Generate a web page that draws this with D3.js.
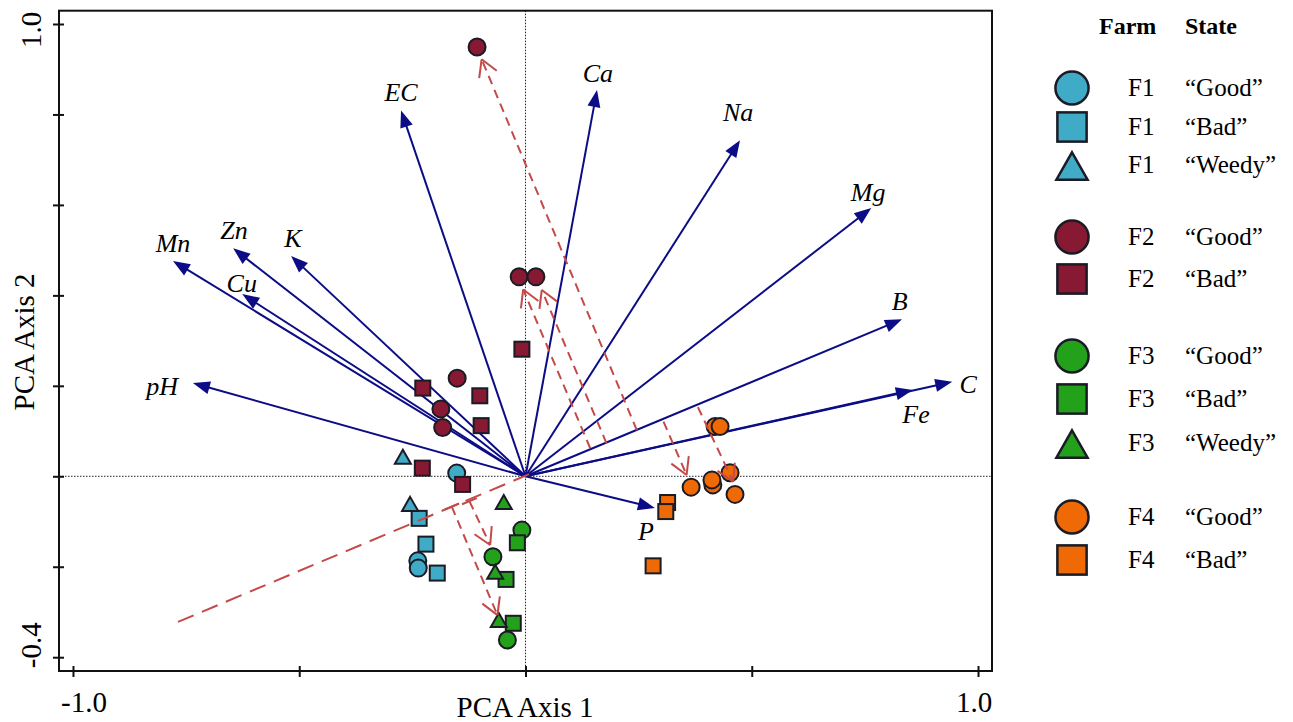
<!DOCTYPE html>
<html><head><meta charset="utf-8">
<script src="https://cdn.jsdelivr.net/npm/d3@7"></script>
<style>body{margin:0;background:#fff} svg{display:block} text{font-family:"Liberation Serif","Times New Roman",serif}</style>
</head><body><svg id="c" width="1293" height="722" font-family="Liberation Serif, Times New Roman, serif"></svg>
<script>
// ---------- DATA ----------
const vectorNames  = ["EC","Ca","Na","Mg","B","C","Fe","P","pH","Mn","Zn","K","Cu"];
const vectorX      = [-0.275,0.158,0.474,0.764,0.832,0.943,0.856,0.286,-0.735,-0.779,-0.646,-0.518,-0.626];
const vectorY      = [0.809,0.854,0.743,0.593,0.347,0.209,0.191,-0.070,0.206,0.476,0.504,0.487,0.403];
const vectorLabelX = [-0.275,0.160,0.470,0.757,0.827,0.978,0.863,0.266,-0.803,-0.779,-0.644,-0.514,-0.627];
const vectorLabelY = [0.849,0.891,0.805,0.628,0.387,0.204,0.138,-0.121,0.200,0.516,0.545,0.527,0.427];

const pointFarm  = ["F1","F1","F1","F1","F1","F1","F1","F1",
                    "F2","F2","F2","F2","F2","F2","F2","F2","F2","F2","F2","F2",
                    "F3","F3","F3","F3","F3","F3","F3","F3","F3",
                    "F4","F4","F4","F4","F4","F4","F4","F4","F4","F4"];
const pointState = ["Good","Good","Good","Bad","Bad","Bad","Weedy","Weedy",
                    "Good","Good","Good","Good","Good","Good","Bad","Bad","Bad","Bad","Bad","Bad",
                    "Good","Good","Good","Bad","Bad","Bad","Weedy","Weedy","Weedy",
                    "Good","Good","Good","Good","Good","Good","Good","Bad","Bad","Bad"];
const pointX = [-0.152,-0.238,-0.237,-0.235,-0.220,-0.195,-0.271,-0.255,
                -0.107,-0.014,0.023,-0.151,-0.187,-0.183,-0.008,-0.227,-0.101,-0.098,-0.228,-0.139,
                -0.008,-0.072,-0.040,-0.018,-0.043,-0.027,-0.048,-0.067,-0.059,
                0.419,0.430,0.366,0.414,0.412,0.452,0.463,0.314,0.310,0.282];
const pointY = [0.007,-0.187,-0.203,-0.093,-0.150,-0.214,0.043,-0.061,
                0.949,0.441,0.441,0.217,0.149,0.108,0.281,0.195,0.178,0.112,0.018,-0.018,
                -0.119,-0.178,-0.362,-0.147,-0.228,-0.325,-0.057,-0.211,-0.318,
                0.110,0.110,-0.024,-0.019,-0.008,0.008,-0.040,-0.058,-0.078,-0.198];

const trendFrom = [-0.768,-0.322];
const trendTo   = [0.023,0.011];
const projFromX = [0.246,0.143,0.179,0.305,0.381,-0.124,-0.163];
const projFromY = [0.102,0.062,0.073,0.121,0.153,-0.055,-0.067];
const projToX   = [-0.097,-0.005,0.036,0.356,0.459,-0.078,-0.062];
const projToY   = [0.922,0.413,0.412,0.003,-0.012,-0.152,-0.307];
const projBar   = [false,false,false,false,false,true,true];

const xTicks = [-1.0,-0.5,0,0.5,1.0];
const xTickLabels = ["-1.0","","","","1.0"];
const yTicks = [-0.4,-0.2,0,0.2,0.4,0.6,0.8,1.0];
const yTickLabels = ["-0.4","","","","","","","1.0"];

const legendFarms  = ["F1","F1","F1","F2","F2","F3","F3","F3","F4","F4"];
const legendStates = ["Good","Bad","Weedy","Good","Bad","Good","Bad","Weedy","Good","Bad"];

// ---------- STYLE / LAYOUT ----------
const farmColor = {F1:"#40abc6",F2:"#871932",F3:"#23a11b",F4:"#ef6905"};
const edge = "#1b1b26";
const navy = "#0c0c86";
const red = "#c44a4a";
const svg = d3.select("#c");
const L=59, R=992, T=10.7, B=671;
const x = d3.scaleLinear().domain([-1.0309,1.0309]).range([L,R]);
const y = d3.scaleLinear().domain([-0.4305,1.0294]).range([B,T]);

// zero lines
svg.append("line").attr("x1",x(0)).attr("x2",x(0)).attr("y1",T).attr("y2",B)
  .attr("stroke","#222").attr("stroke-width",1).attr("stroke-dasharray","1.5,1.5");
svg.append("line").attr("x1",L).attr("x2",R).attr("y1",y(0)).attr("y2",y(0))
  .attr("stroke","#222").attr("stroke-width",1).attr("stroke-dasharray","1.5,1.5");

// frame
svg.append("rect").attr("x",L).attr("y",T).attr("width",R-L).attr("height",B-T)
  .attr("fill","none").attr("stroke","#111").attr("stroke-width",2);

// axes
const ax = svg.append("g").attr("transform",`translate(0,${B})`)
  .call(d3.axisBottom(x).tickValues(xTicks).tickSize(6).tickFormat(""));
ax.select(".domain").remove();
ax.selectAll(".tick line").attr("y1",-5).attr("y2",6).attr("stroke","#111").attr("stroke-width",2);
const ay = svg.append("g").attr("transform",`translate(${L},0)`)
  .call(d3.axisLeft(y).tickValues(yTicks).tickSize(6).tickFormat(""));
ay.select(".domain").remove();
ay.selectAll(".tick line").attr("x1",-6).attr("x2",5).attr("stroke","#111").attr("stroke-width",2);

const xLabelDx = {"-1.0":11,"1.0":-4};
xTicks.forEach((t,i)=>{ if(!xTickLabels[i]) return;
  svg.append("text").attr("x",x(t)+xLabelDx[xTickLabels[i]]).attr("y",712).attr("text-anchor","middle")
    .attr("font-size",29).text(xTickLabels[i]);
});
const yLabelDy = {"-0.4":-12,"1.0":6};
yTicks.forEach((t,i)=>{ if(!yTickLabels[i]) return;
  svg.append("text").attr("transform",`translate(41,${y(t)+yLabelDy[yTickLabels[i]]}) rotate(-90)`)
    .attr("text-anchor","middle").attr("font-size",29).text(yTickLabels[i]);
});
svg.append("text").attr("x",525).attr("y",717).attr("text-anchor","middle").attr("font-size",29).text("PCA Axis 1");
svg.append("text").attr("transform","translate(34,342) rotate(-90)").attr("text-anchor","middle")
  .attr("font-size",29).text("PCA Axis 2");

// blue vectors
const ox=x(0), oy=y(0);
vectorNames.forEach((n,i)=>{
  const tx=x(vectorX[i]), ty=y(vectorY[i]);
  const dx=tx-ox, dy=ty-oy, len=Math.hypot(dx,dy), ux=dx/len, uy=dy/len;
  const hl=17, hw=6.5;
  svg.append("line").attr("x1",ox).attr("y1",oy).attr("x2",tx-ux*10).attr("y2",ty-uy*10)
    .attr("stroke",navy).attr("stroke-width",2);
  const bx=tx-ux*hl, by=ty-uy*hl;
  svg.append("path").attr("d",`M${tx},${ty}L${bx-uy*hw},${by+ux*hw}L${bx+uy*hw},${by-ux*hw}Z`)
    .attr("fill",navy);
  svg.append("text").attr("x",x(vectorLabelX[i])).attr("y",y(vectorLabelY[i])).attr("dy","0.35em")
    .attr("text-anchor","middle").attr("font-size",26).attr("font-style","italic").text(n);
});

// points
function drawSym(g, st, cx, cy, k, col, sw){
  if(st==="Good") g.append("circle").attr("cx",cx).attr("cy",cy).attr("r",8.5*k)
      .attr("fill",col).attr("stroke",edge).attr("stroke-width",sw);
  else if(st==="Bad") g.append("rect").attr("x",cx-7.5*k).attr("y",cy-7.5*k).attr("width",15*k).attr("height",15*k)
      .attr("fill",col).attr("stroke",edge).attr("stroke-width",sw);
  else { const w=8*k, h=7*k;
    g.append("path").attr("d",`M${cx},${cy-h}L${cx+w},${cy+h}L${cx-w},${cy+h}Z`)
      .attr("fill",col).attr("stroke",edge).attr("stroke-width",sw).attr("stroke-linejoin","miter"); }
}
const order = ["Good","Bad","Weedy"];
["F1","F2","F3","F4"].forEach(f=>{
  order.forEach(st=>{
    pointFarm.forEach((pf,i)=>{
      if(pf!==f || pointState[i]!==st) return;
      drawSym(svg, st, x(pointX[i]), y(pointY[i]), 1, farmColor[f], 2);
    });
  });
});

// red trend axis
svg.append("line").attr("x1",x(trendFrom[0])).attr("y1",y(trendFrom[1])).attr("x2",x(trendTo[0])).attr("y2",y(trendTo[1]))
  .attr("stroke",red).attr("stroke-width",2).attr("stroke-dasharray","17,9");
const tdx=x(trendTo[0])-x(trendFrom[0]), tdy=y(trendTo[1])-y(trendFrom[1]), tl=Math.hypot(tdx,tdy);
const tux=tdx/tl, tuy=tdy/tl;

// projection arrows
projFromX.forEach((_,i)=>{
  const sx=x(projFromX[i]), sy=y(projFromY[i]), ex=x(projToX[i]), ey=y(projToY[i]);
  svg.append("line").attr("x1",sx).attr("y1",sy).attr("x2",ex).attr("y2",ey)
    .attr("stroke",red).attr("stroke-width",2).attr("stroke-dasharray","9,6");
  const dx=sx-ex, dy=sy-ey, l=Math.hypot(dx,dy), ux=dx/l, uy=dy/l, a=Math.PI/6, al=19;
  [a,-a].forEach(t=>{
    const rx=ux*Math.cos(t)-uy*Math.sin(t), ry=ux*Math.sin(t)+uy*Math.cos(t);
    svg.append("line").attr("x1",ex).attr("y1",ey).attr("x2",ex+rx*al).attr("y2",ey+ry*al)
      .attr("stroke",red).attr("stroke-width",2);
  });
  if(projBar[i]) svg.append("line").attr("x1",sx-tux*8).attr("y1",sy-tuy*8).attr("x2",sx+tux*8).attr("y2",sy+tuy*8)
      .attr("stroke",red).attr("stroke-width",2);
});

// legend
svg.append("text").attr("x",1099).attr("y",34).attr("font-size",24).attr("font-weight","bold").text("Farm");
svg.append("text").attr("x",1185).attr("y",34).attr("font-size",24).attr("font-weight","bold").text("State");
const legendRowY = [88,127,165,237,279,356,399,443,517,560];
legendFarms.forEach((f,i)=>{
  const cy=legendRowY[i];
  drawSym(svg, legendStates[i], 1072, cy + (legendStates[i]==="Weedy"?1:0), 1.95, farmColor[f], 2.5);
  svg.append("text").attr("x",1128).attr("y",cy+8).attr("font-size",25).text(f);
  svg.append("text").attr("x",1185).attr("y",cy+8).attr("font-size",25).text("\u201C"+legendStates[i]+"\u201D");
});
</script></body></html>
